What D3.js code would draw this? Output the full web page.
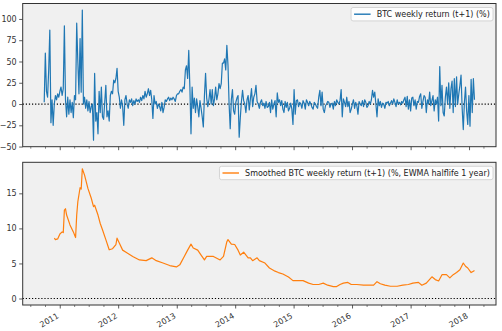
<!DOCTYPE html>
<html><head><meta charset="utf-8">
<script src="https://cdn.jsdelivr.net/npm/d3@7"></script>
<style>
body{margin:0;background:#fff}
svg{display:block}
text{font-family:"DejaVu Sans",sans-serif}
</style>
</head><body><svg id="c" width="502" height="331"></svg>
<script>
// ---------- data ----------
const startDate = "2010-09-26"; // first weekly observation
const weeklyReturn = [
  2, 60, 15, 8, 40, 87, -22, 5, -25, 0,
  10, 5, 12, 8, 15, 20, 10, 18, 92, 5,
  -15, 8, -12, 5, -10, 2, -16, 10, 5, 95,
  50, 12, 77, 14, 110.5, 0, 8, -5, 5, -8,
  3, -10, -3, 0, -42.5, 36, -20, -10, -35, 15,
  -10, 20, -15, -18, 2, 22, -15, -8, -20, 10,
  15, 12, 28, 25, 30, 42, 15, 8, -5, 5,
  -3, -25, 5, 10, 0, -5, 5, 2, 6, -2,
  4, 0, 6, 3, 5, 2, 8, 4, 10, 6,
  15, 8, 12, 18, 10, 16, 5, -17, 10, 0,
  3, -5, 0, -3, -8, 2, -10, -4, 5, 3,
  6, 8, 4, 7, 5, 8, 6, 3, 10, 12,
  12, 15, 17, 14, 20, 18, 40, 45, 30, 63,
  20, -35, 20, -5, 7, -10, 6, -3, -15, 4,
  -5, -15, -27, 10, 36, 7, -3, 5, 17, 0,
  17, -2, 6, 20, 5, 12, 24, 18, 24, 48,
  48, 53, 40, 69, 46, 0, -29, 5, 17, -8,
  -12, 2, 7, 10, -39, -16, 3, 16, 4, 0,
  -10, 5, 10, -7, 6, 18, -3, 8, 12, 22,
  3, 0, -5, 2, 5, -2, 1, -5, 3, -4,
  -3, 2, -10, 5, -6, 0, 4, -15, 13, 2,
  5, -2, 4, -6, -10, 3, -4, 2, -8, -5,
  1, -6, -24, 17, -12, 4, 5, -3, 2, 0,
  -5, 4, 1, -6, 5, 2, -2, 3, 0, -4,
  -6, 2, 0, -3, -5, 8, 16, -2, 14, -6,
  -10, -2, 0, 3, 2, -4, 0, 1, -6, 3,
  -2, 5, 2, 0, 4, 17, -15, 6, 2, -3,
  8, -3, 3, -10, -6, 0, 5, -5, 2, -2,
  -12, 3, 0, -2, 4, -3, 5, 2, -4, -2,
  3, 0, 5, 16, 8, 14, 0, -15, 6, -2,
  3, -4, 1, 0, -5, 2, 1, 3, -2, 1,
  4, 0, 6, 2, -3, 5, 0, 2, -1, 3,
  1, 5, 8, -3, 9, -6, 5, -8, 7, 8,
  -2, 5, -6, 3, 2, 9, 12, -5, 3, 10,
  8, -10, 5, 0, 14, -2, 4, 10, -8, 5,
  0, 8, -20, 44, -2, 22, -10, -14, 8, 20,
  0, 25, -5, 18, 27, -10, 30, -3, 32, 0,
  12, 22, 34, -5, -30, 2, 20, -8, -24, 10,
  -26, 29, -10, 30, 5
];
// smoothed series: week index (from startDate) and value
const smoothWeek = [9,10,12,14,16,17,18,19,20,23,26,28,29,30,32,33,34,36,39,42,44,45,48,50,52,55,58,61,64,65,67,70,73,79,85,91,96,100,106,112,118,121,125,128,131,133,137,140,143,145,151,157,160,163,164,167,170,173,175,178,182,184,186,190,192,197,201,206,209,213,218,222,227,231,236,240,245,249,253,258,261,264,267,271,274,279,285,291,294,297,300,304,309,315,320,325,329,334,337,341,346,349,352,355,359,362,365,368,371,374,376,378,381,383,384];
const smoothValue = [8.6,8.4,8.5,9.2,9.5,9.4,12.6,12.8,11.9,10.5,9.5,8.7,11.9,13.8,15.8,15.6,18.5,17.6,15.7,14.3,13.1,13.3,11.9,10.7,9.8,8.4,6.95,7.1,7.7,8.6,7.9,6.9,6.6,6.0,5.5,5.4,5.8,5.4,5.06,4.7,4.5,4.8,6.0,6.9,7.75,7.2,6.9,6.2,5.5,6.0,6.0,5.5,6.0,8.1,8.4,7.75,7.7,6.9,6.2,6.6,5.8,5.8,5.4,5.8,5.4,5.06,4.35,3.9,3.7,3.5,3.07,2.55,2.55,2.55,2.2,2.0,2.0,2.2,1.9,1.7,1.7,2.0,2.2,2.3,2.0,2.0,1.9,1.9,1.9,2.4,2.1,1.9,1.75,1.75,1.9,2.0,2.2,2.3,1.9,2.2,3.1,2.7,2.5,3.4,3.4,2.95,3.4,3.7,4.1,5.06,4.6,4.35,3.7,3.9,4.0];
const topTicks = [-50, -25, 0, 25, 50, 75, 100];
const bottomTicks = [0, 5, 10, 15];
const yearTicks = [2011, 2012, 2013, 2014, 2015, 2016, 2017, 2018];
const legendTop = "BTC weekly return (t+1) (%)";
const legendBottom = "Smoothed BTC weekly return (t+1) (%, EWMA halflife 1 year)";

// ---------- chart ----------
const svg = d3.select("#c");
const parse = d3.utcParse("%Y-%m-%d");
const t0 = parse(startDate);
const rawDates = weeklyReturn.map((_, i) => d3.utcDay.offset(t0, 7 * i));
const smDates = smoothWeek.map(w => d3.utcDay.offset(t0, 7 * w));
const ext = d3.extent(rawDates.concat(smDates));
const span = ext[1] - ext[0];
const L = 22.7, R = 496;
const x = d3.scaleUtc()
  .domain([new Date(+ext[0] - 0.05 * span), new Date(+ext[1] + 0.05 * span)])
  .range([L, R]);
function padDomain(vals) {
  const lo = Math.min(0, d3.min(vals)), hi = Math.max(0, d3.max(vals));
  const m = (hi - lo) * 0.05;
  return [lo - m, hi + m];
}
const yearDates = yearTicks.map(y => new Date(Date.UTC(y, 0, 1)));
const quarterDates = d3.utcMonth.every(3).range(x.domain()[0], x.domain()[1]).filter(d => d.getUTCMonth() !== 0);

const panels = [
  {top: 3.5, bottom: 146.7, dates: rawDates, values: weeklyReturn, color: "#1f77b4", ticks: topTicks, legend: legendTop, labels: false},
  {top: 162.3, bottom: 305, dates: smDates, values: smoothValue, color: "#ff7f0e", ticks: bottomTicks, legend: legendBottom, labels: true}
];

panels.forEach(p => {
  const y = d3.scaleLinear().domain(padDomain(p.values)).range([p.bottom, p.top]);
  const g = svg.append("g");
  g.append("rect").attr("x", L).attr("y", p.top).attr("width", R - L).attr("height", p.bottom - p.top)
    .attr("fill", "#f0f0f0");
  // zero line
  g.append("line").attr("x1", L).attr("x2", R).attr("y1", y(0)).attr("y2", y(0))
    .attr("stroke", "#000").attr("stroke-width", 1.2).attr("stroke-dasharray", "1.2,1.9");
  // series
  const line = d3.line().x((d, i) => x(p.dates[i])).y(d => y(d));
  g.append("path").datum(p.values).attr("d", line).attr("fill", "none")
    .attr("stroke", p.color).attr("stroke-width", 1.2).attr("stroke-linejoin", "round");
  // y axis
  const ya = g.append("g").attr("transform", `translate(${L},0)`)
    .call(d3.axisLeft(y).tickValues(p.ticks).tickSize(3.5).tickSizeOuter(0).tickPadding(2.5));
  ya.select(".domain").remove();
  ya.selectAll("line").attr("stroke", "#333").attr("stroke-width", 0.8);
  ya.selectAll("text").attr("font-size", 8).attr("fill", "#333").attr("font-family", "DejaVu Sans");
  // x axis major
  const xa = g.append("g").attr("transform", `translate(0,${p.bottom})`)
    .call(d3.axisBottom(x).tickValues(yearDates).tickSize(3.5).tickSizeOuter(0)
      .tickFormat(p.labels ? d3.utcFormat("%Y") : () => ""));
  xa.select(".domain").remove();
  xa.selectAll("line").attr("stroke", "#333").attr("stroke-width", 0.8);
  if (p.labels) {
    xa.selectAll("text")
      .attr("font-size", 8).attr("fill", "#333").attr("font-family", "DejaVu Sans")
      .attr("text-anchor", "end").attr("y", 0).attr("dy", "-0.22em")
      .attr("transform", "translate(0,14) rotate(-30)");
  }
  // x axis minor
  const xm = g.append("g").attr("transform", `translate(0,${p.bottom})`)
    .call(d3.axisBottom(x).tickValues(quarterDates).tickSize(2).tickSizeOuter(0).tickFormat(() => ""));
  xm.select(".domain").remove();
  xm.selectAll("line").attr("stroke", "#333").attr("stroke-width", 0.6);
  // frame
  g.append("rect").attr("x", L).attr("y", p.top).attr("width", R - L).attr("height", p.bottom - p.top)
    .attr("fill", "none").attr("stroke", "#333").attr("stroke-width", 1);
  // legend
  const lg = g.append("g");
  const box = lg.append("rect");
  const txt = lg.append("text").text(p.legend).attr("font-size", 8).attr("fill", "#222");
  const tw = txt.node().getComputedTextLength();
  const bw = tw + 3.2 + 16 + 6.4 + 3.2;
  const bx = R - 3 - bw, by = p.top + 4, bh = 13.4;
  box.attr("x", bx).attr("y", by).attr("width", bw).attr("height", bh).attr("rx", 2)
    .attr("fill", "#fff").attr("fill-opacity", 0.85).attr("stroke", "#ccc").attr("stroke-width", 0.8);
  lg.append("line").attr("x1", bx + 3).attr("x2", bx + 19.5).attr("y1", by + bh / 2).attr("y2", by + bh / 2)
    .attr("stroke", p.color).attr("stroke-width", 1.4);
  txt.attr("x", bx + 3.2 + 16 + 6.4).attr("y", by + bh / 2).attr("dy", "0.35em");
});
</script>
</body></html>
